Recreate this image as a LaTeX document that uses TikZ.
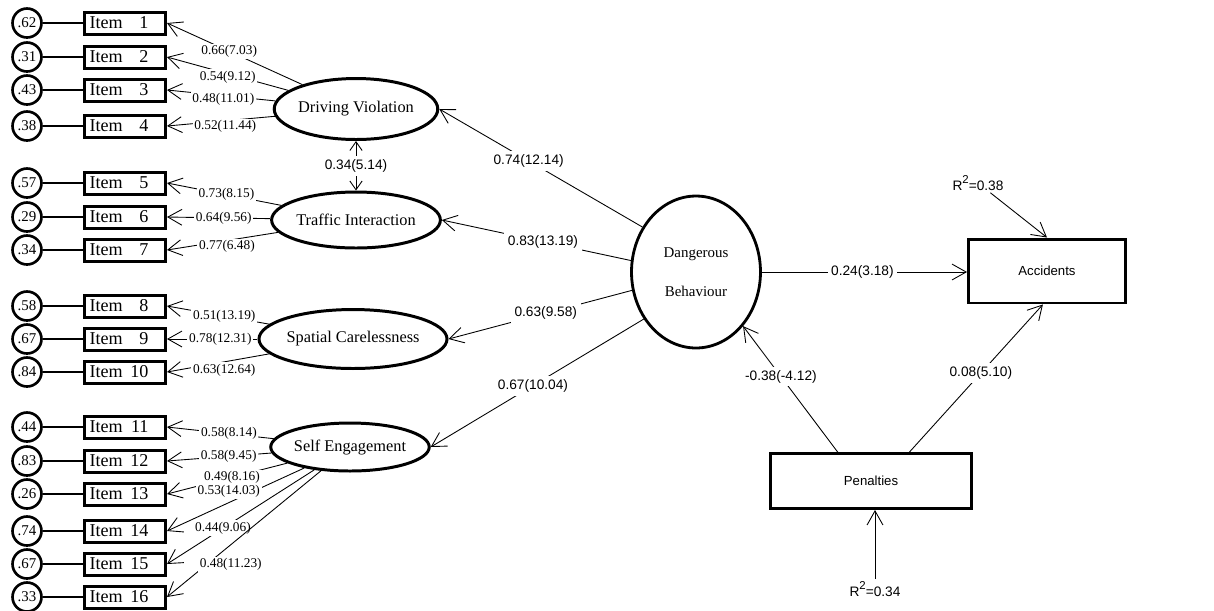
\documentclass[tikz,border=0pt]{standalone}
\usepackage{fontspec}
\setmainfont{Liberation Serif}
\setsansfont{Liberation Sans}
\usetikzlibrary{shapes.geometric,arrows.meta}
\newcommand\itx[1]{\makebox[1.62cm][l]{\hspace{0.1cm}\makebox[1.18cm]{Item\hfill #1}}}
\newcommand\rsq{\raisebox{1.0ex}{\fontsize{6.5}{7}\selectfont 2}}
\tikzset{
  itembox/.style={draw, line width=1.7pt, minimum height=0.44cm, inner xsep=0pt, inner ysep=0pt, font=\fontsize{10.3}{12}\selectfont},
  errc/.style={draw, circle, line width=1.5pt, minimum size=0.58cm, inner sep=0pt, font=\fontsize{8.5}{10}\selectfont},
  lat/.style={draw, ellipse, line width=1.7pt, inner sep=0pt, font=\fontsize{9.3}{11}\selectfont},
  obs/.style={draw, line width=1.7pt, inner sep=0pt, font=\sffamily\fontsize{7.5}{9}\selectfont},
  arr/.style={-{Straight Barb[length=8pt,width=9pt]}, line width=0.5pt},
  darr/.style={{Straight Barb[length=5pt,width=7pt]}-{Straight Barb[length=5pt,width=7pt]}, line width=0.5pt},
  plain/.style={line width=0.6pt},
  lab/.style={fill=white, inner sep=1pt, font=\fontsize{7.6}{8.5}\selectfont},
  slab/.style={fill=white, inner sep=2pt, font=\sffamily\fontsize{7.8}{9}\selectfont},
  rlab/.style={inner sep=1pt, font=\sffamily\fontsize{7.8}{9}\selectfont}
}
\begin{document}
\begin{tikzpicture}[x=0.02cm, y=-0.02cm]
\useasboundingbox (0,0) rectangle (1214,610);

% error circles and items
\foreach \n/\yy/\ev in {1/23/.62, 2/57/.31, 3/90/.43, 4/126/.38, 5/183/.57, 6/217/.29, 7/250/.34, 8/306/.58, 9/339/.67, 10/372/.84, 11/427/.44, 12/461/.83, 13/494/.26, 14/531/.74, 15/564/.67, 16/597/.33}{
  \node[errc] (e\n) at (27,\yy) {\ev};
  \node[itembox] (i\n) at (125,\yy) {\itx{\n}};
  \draw[plain] (e\n) -- (i\n);
}

% latent factors
\node[lat, minimum width=2.86cm, minimum height=1.22cm] (dv) at (356,109) {Driving Violation};
\node[lat, minimum width=2.86cm, minimum height=1.12cm] (ti) at (356,220) {Traffic Interaction};
\node[lat, minimum width=3.0cm, minimum height=1.18cm] (sc) at (353,339) {Spatial Carelessness};
\node[lat, minimum width=3.02cm, minimum height=0.96cm] (se) at (350,447) {Self Engagement};

\node[draw, ellipse, line width=1.6pt, inner sep=0pt, minimum width=2.58cm, minimum height=3.04cm, align=center, font=\fontsize{8.5}{10.5}\selectfont] (db) at (696,272) {Dangerous\\[12pt]Behaviour};

\node[obs, minimum width=3.14cm, minimum height=1.28cm] (acc) at (1047,271) {Accidents};
\node[obs, minimum width=4.04cm, minimum height=1.1cm] (pen) at (871,481) {Penalties};

\node[rlab] (r38) at (978,183) {R\rsq=0.38};
\node[rlab] (r34) at (875,589) {R\rsq=0.34};

% loadings Driving Violation
\draw[arr] (dv) -- (i1.east) node[lab,pos=.54]{0.66(7.03)};
\draw[arr] (dv) -- (i2.east) node[lab,pos=.50,yshift=-0.07cm]{0.54(9.12)};
\draw[arr] (dv) -- (i3.east) node[lab,pos=.48,yshift=-0.08cm]{0.48(11.01)};
\draw[arr] (dv) -- (i4.east) node[lab,pos=.46,yshift=-0.12cm]{0.52(11.44)};

% loadings Traffic Interaction
\draw[arr] (ti) -- (i5.east) node[lab,pos=.48]{0.73(8.15)};
\draw[arr] (ti) -- (i6.east) node[lab,pos=.45]{0.64(9.56)};
\draw[arr] (ti) -- (i7.east) node[lab,pos=.46,yshift=-0.12cm]{0.77(6.48)};

% loadings Spatial Carelessness
\draw[arr] (sc) -- (i8.east) node[lab,pos=.44]{0.51(13.19)};
\draw[arr] (sc) -- (i9.east) node[lab,pos=.41]{0.78(12.31)};
\draw[arr] (sc) -- (i10.east) node[lab,pos=.44,yshift=-0.16cm]{0.63(12.64)};

% loadings Self Engagement
\draw[arr] (se) -- (i11.east) node[lab,pos=.42]{0.58(8.14)};
\draw[arr] (se) -- (i12.east) node[lab,pos=.41]{0.58(9.45)};
\draw[arr] (se) -- (i13.east) node[lab,pos=.46]{0.49(8.16)};
\draw[arr] (se) -- (i14.east) node[lab,pos=.55,yshift=0.22cm]{0.53(14.03)};
\draw[arr] (se) -- (i15.east) node[lab,pos=.62]{0.44(9.06)};
\draw[arr] (se) -- (i16.east) node[lab,pos=.586,yshift=-0.4cm]{0.48(11.23)};

% correlation
\draw[darr] (dv.south) -- (ti.north) node[slab,pos=.5]{0.34(5.14)};

% structural paths
\draw[arr] (db.140) -- (dv.east) node[slab,pos=.56]{0.74(12.14)};
\draw[arr] (db.170) -- (ti.east) node[slab,pos=.465]{0.83(13.19)};
\draw[arr] (db.196) -- (sc.east) node[slab,pos=.47]{0.63(9.58)};
\draw[arr] (db.222) -- (se.east) node[slab,pos=.52]{0.67(10.04)};
\draw[arr] (db.east) -- (db.east -| acc.west) node[slab,pos=.49]{0.24(3.18)};
\draw[arr] (pen.139) -- (db.311) node[slab,pos=.6]{-0.38(-4.12)};
\draw[arr] (pen.37) -- (acc.263) node[slab,pos=.535]{0.08(5.10)};
\draw[arr] (r38) -- (acc.north);
\draw[arr] (r34.north) -- (r34.north |- pen.south);
\end{tikzpicture}
\end{document}
